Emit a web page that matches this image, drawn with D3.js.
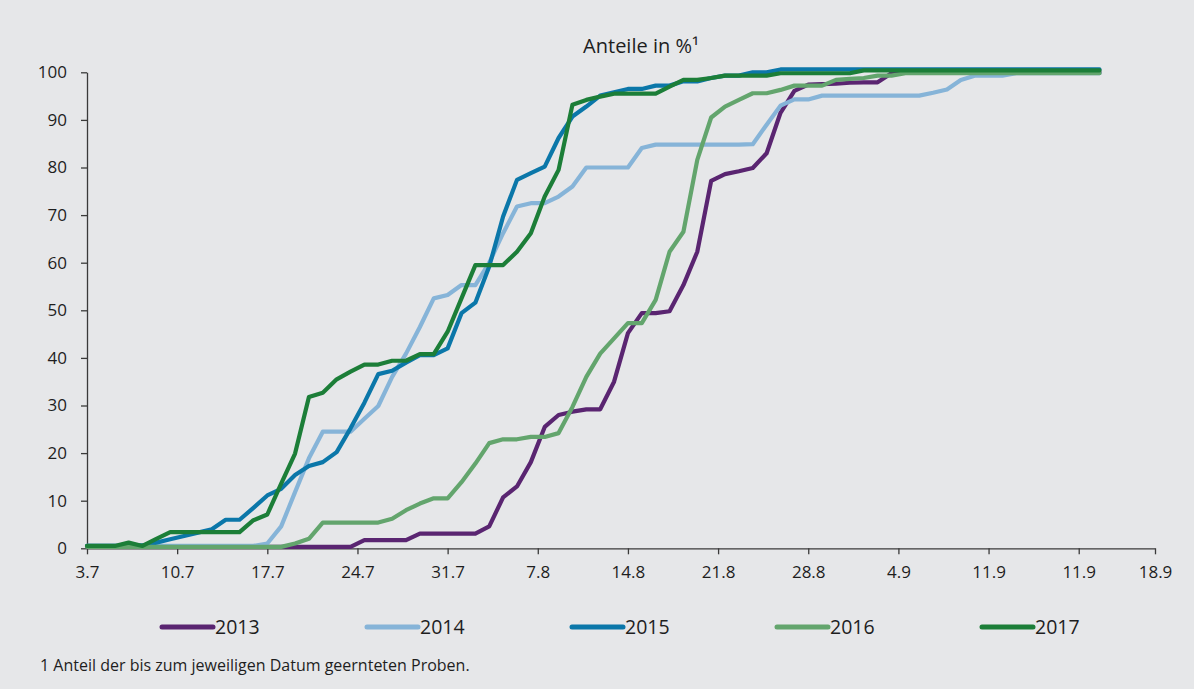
<!DOCTYPE html>
<html>
<head>
<meta charset="utf-8">
<script src="https://cdn.jsdelivr.net/npm/d3@7"></script>
<style>
  body { margin: 0; background: #e6e7e9; }
  text { font-family: "Open Sans", "Noto Sans", sans-serif; fill: #1e1e1e; }
</style>
</head>
<body>
<div id="linegraph"></div>
<script>
'use strict';

// x positions are sample indices (one point per sampling day)
var xTickPos    = [0, 6.5, 13, 19.5, 26, 32.5, 39, 45.5, 52, 58.5, 65, 71.5, 77];
var xTickLabels = ["3.7", "10.7", "17.7", "24.7", "31.7", "7.8", "14.8", "21.8", "28.8", "4.9", "11.9", "11.9", "18.9"];
var yTicks      = [0, 10, 20, 30, 40, 50, 60, 70, 80, 90, 100];

var years  = ["2013", "2014", "2015", "2016", "2017"];
var colors = ["#5a2571", "#86b4d8", "#0b77a9", "#63a56d", "#1c7e38"];

var v2013 = [0.3,0.3,0.3,0.3,0.3,0.3,0.3,0.3,0.3,0.3,0.3,0.3,0.3,0.3,0.3,0.3,0.3,0.3,0.3,0.3,
             1.7,1.7,1.7,1.7,3.1,3.1,3.1,3.1,3.1,4.6,10.7,13.0,18.1,25.5,28.0,28.7,29.2,29.2,35.0,45.2,
             49.4,49.4,49.8,55.3,62.3,77.2,78.6,79.2,79.9,83.0,91.5,96.1,97.4,97.5,97.6,97.8,97.9,97.9,99.8,99.9,
             100,100,100,100,100,100,100,100,100,100,100,100,100,100];
var v2014 = [0.5,0.5,0.5,0.5,0.5,0.5,0.5,0.5,0.5,0.5,0.5,0.5,0.5,1.0,4.6,11.8,18.9,24.5,24.5,24.5,
             27.2,29.9,36.0,40.9,46.5,52.5,53.2,55.3,55.3,60.0,66.2,71.8,72.5,72.5,73.9,76.0,80.0,80.0,80.0,80.0,
             84.1,84.8,84.8,84.8,84.8,84.8,84.8,84.8,84.9,89.0,93.0,94.3,94.3,95.1,95.1,95.1,95.1,95.1,95.1,95.1,
             95.1,95.7,96.4,98.4,99.3,99.3,99.3,99.8,99.8,99.8,99.8,99.8,99.8,99.8];
var v2015 = [0.5,0.5,0.5,0.5,0.6,1.2,1.9,2.6,3.3,4.0,6.0,6.0,8.5,11.1,12.5,15.4,17.3,18.1,20.2,25.2,
             30.6,36.6,37.3,39.0,40.6,40.6,42.0,49.4,51.6,59.2,69.7,77.4,78.8,80.2,86.2,90.7,92.8,95.1,95.8,96.5,
             96.5,97.2,97.2,98.1,98.1,98.8,99.3,99.3,100,100,100.6,100.6,100.6,100.6,100.6,100.6,100.6,100.6,100.6,100.6,
             100.6,100.6,100.6,100.6,100.6,100.6,100.6,100.6,100.6,100.6,100.6,100.6,100.6,100.6];
var v2016 = [0.3,0.3,0.3,0.3,0.3,0.3,0.3,0.3,0.3,0.3,0.3,0.3,0.3,0.3,0.3,1.0,2.0,5.4,5.4,5.4,
             5.4,5.4,6.2,8.0,9.4,10.5,10.5,13.9,17.8,22.1,22.9,22.9,23.4,23.4,24.2,29.7,36.0,40.9,44.1,47.3,
             47.3,52.2,62.3,66.5,81.6,90.5,92.8,94.2,95.6,95.6,96.3,97.2,97.2,97.2,98.4,98.6,98.8,99.3,99.3,99.8,
             99.8,99.8,99.8,99.8,99.8,99.8,99.8,99.8,99.8,99.8,99.8,99.8,99.8,99.8];
var v2017 = [0.5,0.5,0.5,1.2,0.5,2.0,3.4,3.4,3.4,3.4,3.4,3.4,5.9,7.1,13.6,19.9,31.8,32.7,35.5,37.1,
             38.6,38.6,39.4,39.4,40.8,40.8,45.5,52.5,59.5,59.5,59.5,62.3,66.2,73.9,79.5,93.2,94.2,94.9,95.5,95.5,
             95.5,95.5,97.0,98.4,98.4,98.8,99.3,99.3,99.3,99.3,99.8,99.8,99.8,99.8,99.8,99.8,100.4,100.4,100.4,100.4,
             100.4,100.4,100.4,100.4,100.4,100.4,100.4,100.4,100.4,100.4,100.4,100.4,100.4,100.4];

var series = [v2013, v2014, v2015, v2016, v2017];

var W = 1194, H = 689;

var svg = d3.select("#linegraph")
    .append("svg")
    .attr("width", W)
    .attr("height", H);

svg.append("rect").attr("width", W).attr("height", H).attr("fill", "#e6e7e9");

// scales
var x = d3.scaleLinear().domain([0, 77]).range([87, 1155]);
var y = d3.scaleLinear().domain([0, 100]).range([548.3, 72.3]);

// title
svg.append("text")
    .attr("x", 641).attr("y", 53)
    .attr("text-anchor", "middle")
    .style("font-size", "20px")
    .text("Anteile in %\u00b9");

// x axis
var xAxis = svg.append("g")
    .attr("transform", "translate(0," + y(0) + ")")
    .call(d3.axisBottom(x)
        .tickValues(xTickPos)
        .tickSize(6)
        .tickSizeOuter(0)
        .tickFormat(function(d, i) { return xTickLabels[i]; }));

// y axis
var yAxis = svg.append("g")
    .attr("transform", "translate(" + x(0) + ",0)")
    .call(d3.axisLeft(y)
        .tickValues(yTicks)
        .tickSize(6)
        .tickSizeOuter(0));

[xAxis, yAxis].forEach(function(g) {
    g.select(".domain").attr("stroke", "#3a3a3a").attr("stroke-width", 1.3);
    g.selectAll(".tick line").attr("stroke", "#3a3a3a").attr("stroke-width", 1.3);
    g.selectAll(".tick text")
        .attr("fill", "#1e1e1e")
        .style("font-family", "'Open Sans', sans-serif")
        .style("font-size", "17px");
});
xAxis.selectAll(".tick text").attr("dy", "1.2em");
yAxis.selectAll(".tick text").attr("x", -20);

// lines
var valueline = d3.line()
    .x(function(d, i) { return x(i); })
    .y(function(d) { return y(d); });

svg.selectAll(".line")
    .data(series)
    .enter().append("path")
    .attr("class", "line")
    .attr("fill", "none")
    .attr("stroke", function(d, i) { return colors[i]; })
    .attr("stroke-width", 4.2)
    .attr("stroke-linejoin", "round")
    .attr("stroke-linecap", "round")
    .attr("d", valueline);

// legend
var legend = svg.selectAll(".legend")
    .data(years)
    .enter().append("g")
    .attr("class", "legend")
    .attr("transform", function(d, i) { return "translate(" + (162 + i * 205) + ",627)"; });

legend.append("line")
    .attr("x1", 0).attr("x2", 51)
    .attr("stroke", function(d, i) { return colors[i]; })
    .attr("stroke-width", 5)
    .attr("stroke-linecap", "round");

legend.append("text")
    .attr("x", 53).attr("y", 7)
    .style("font-size", "19.5px")
    .text(function(d) { return d; });

// footnote
svg.append("text")
    .attr("x", 40).attr("y", 671)
    .style("font-size", "16px")
    .text("1 Anteil der bis zum jeweiligen Datum geernteten Proben.");
</script>
</body>
</html>
